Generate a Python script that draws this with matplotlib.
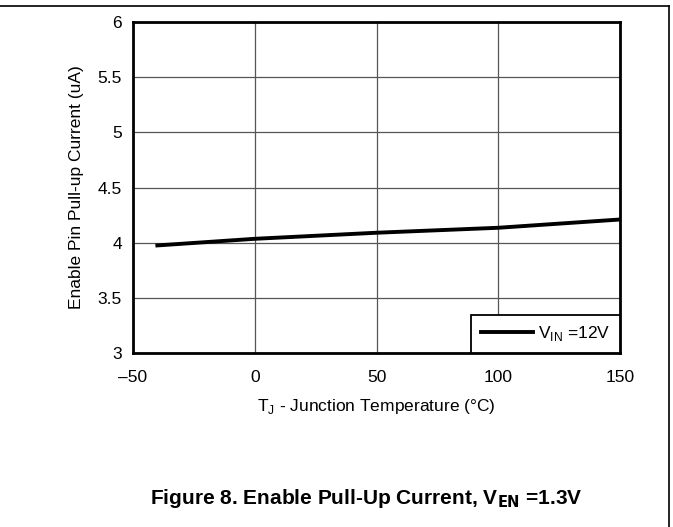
import matplotlib
matplotlib.use('Agg')
import matplotlib.pyplot as plt
from matplotlib.lines import Line2D

plt.rcParams['font.family'] = ['Liberation Sans', 'DejaVu Sans']

temp = [-40, 0, 50, 100, 150]
current = [3.975, 4.035, 4.09, 4.135, 4.21]
series_label = r'V$_{\mathregular{IN}}$ =12V'
xticks = [-50, 0, 50, 100, 150]
xtick_labels = ['\u201350', '0', '50', '100', '150']
yticks = [3, 3.5, 4, 4.5, 5, 5.5, 6]

fig = plt.figure(figsize=(6.73, 5.27), dpi=100)
ax = fig.add_axes([133 / 673, 1 - 353 / 527, (620 - 133) / 673, (353 - 22) / 527])

ax.plot(temp, current, '-', color='black', lw=2.8, label=series_label)
ax.set_xlim(-50, 150)
ax.set_ylim(3, 6)
ax.set_xticks(xticks)
ax.set_xticklabels(xtick_labels)
ax.set_yticks(yticks)
ax.set_yticklabels(['3', '3.5', '4', '4.5', '5', '5.5', '6'])
ax.tick_params(length=0, labelsize=12.5)
ax.tick_params(axis='x', pad=12)
ax.tick_params(axis='y', pad=8)
ax.grid(True, color='#555555', lw=0.9)
for s in ax.spines.values():
  s.set_linewidth(2)
ax.set_xlabel(r'T$_{\mathregular{J}}$ - Junction Temperature (°C)', fontsize=12.5, labelpad=9)
ax.set_ylabel('Enable Pin Pull-up Current (uA)', fontsize=12.5, labelpad=10)

leg = ax.legend(loc='lower right', fontsize=12.5, fancybox=False, framealpha=1,
                edgecolor='black', borderaxespad=0, handlelength=3.0, handletextpad=0.3,
                borderpad=0.55)
leg.get_frame().set_linewidth(1.3)

fig.text(366 / 673, 1 - 498 / 527, r'Figure 8. Enable Pull-Up Current, V$_{\mathbf{EN}}$ =1.3V',
         ha='center', va='center', fontsize=15, fontweight='bold')

# page border (top and right)
fig.add_artist(Line2D([0, 669 / 673], [1 - 6 / 527, 1 - 6 / 527], color='black', lw=1.2))
fig.add_artist(Line2D([669 / 673, 669 / 673], [1 - 6 / 527, 0], color='black', lw=1.2))

plt.savefig('out.png', dpi=100)
